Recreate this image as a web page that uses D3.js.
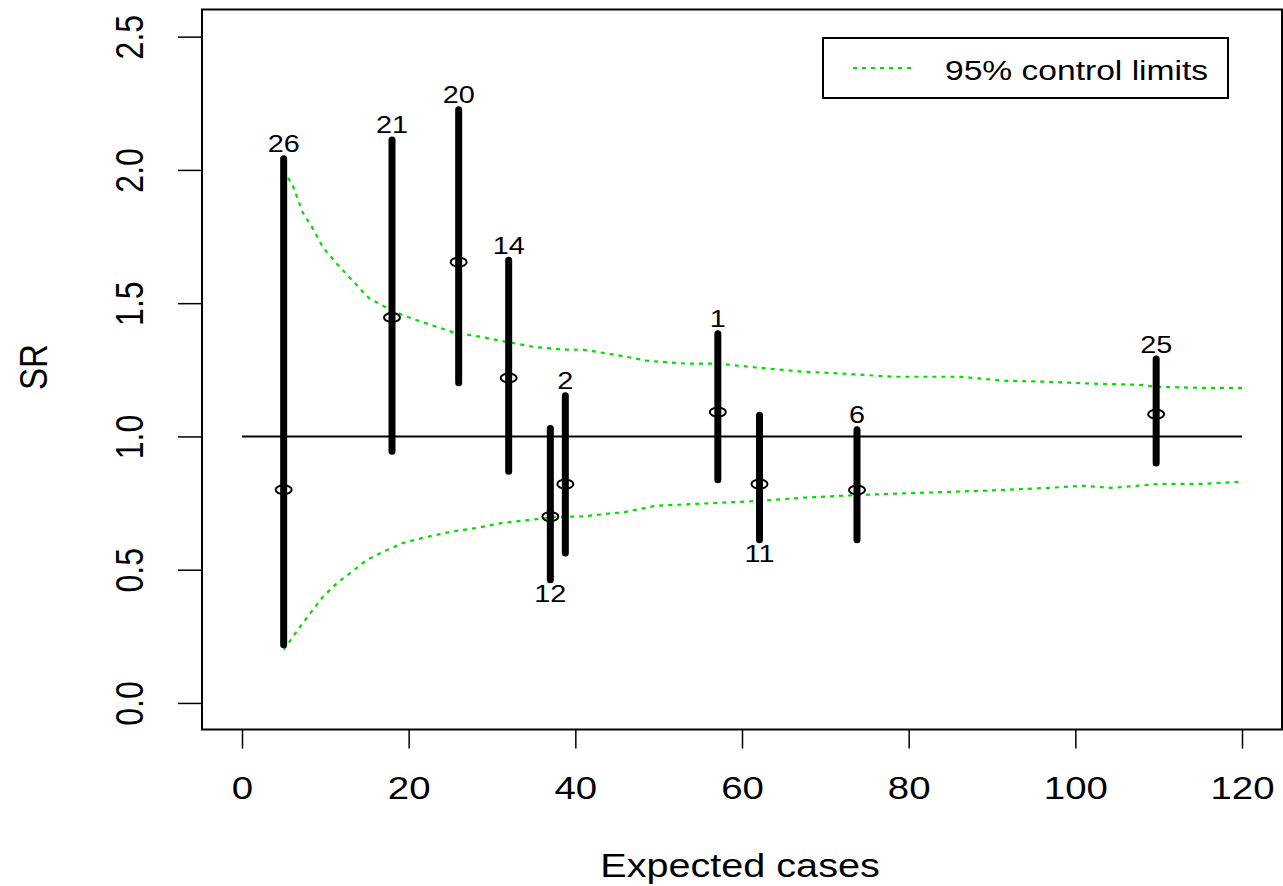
<!DOCTYPE html>
<html>
<head>
<meta charset="utf-8">
<script src="https://cdnjs.cloudflare.com/ajax/libs/d3/7.8.5/d3.min.js"></script>
<style>
  body { margin: 0; background: #fff; }
  text { font-family: "Liberation Sans", Arial, sans-serif; fill: #000; }
</style>
</head>
<body>
<svg id="chart" width="1283" height="886"></svg>
<script>
// areas: id, expected cases, SR estimate, interval
const ids      = ["26", "21", "20", "14", "12", "2", "1", "11", "6", "25"]
const expected = [5, 18, 26, 32, 37, 38.8, 57.1, 62.1, 73.8, 109.7]
const sr       = [0.80, 1.446, 1.654, 1.219, 0.699, 0.821, 1.091, 0.821, 0.799, 1.083]
const lower    = [0.211, 0.937, 1.194, 0.862, 0.455, 0.555, 0.83, 0.605, 0.605, 0.893]
const upper    = [2.049, 2.12, 2.233, 1.669, 1.037, 1.16, 1.393, 1.087, 1.033, 1.298]
const labelBelow = ["12", "11"]

// 95% control limits
const limX  = [5, 6.1, 7.3, 8.5, 9.7, 11.6, 13.4, 15.2, 17.5, 19.7, 22.5, 25.4, 28.6, 31.7, 35, 38.5, 41, 44.9, 48.6, 53.4, 57.1, 62, 67.3, 72.7, 78, 86.1, 91.4, 96.8, 102.1, 107.5, 110.1, 115.5, 120]
const limUp = [2.0, 1.94, 1.84, 1.78, 1.71, 1.64, 1.58, 1.52, 1.48, 1.45, 1.42, 1.39, 1.374, 1.355, 1.336, 1.326, 1.325, 1.306, 1.284, 1.273, 1.273, 1.258, 1.243, 1.235, 1.224, 1.224, 1.209, 1.205, 1.198, 1.194, 1.186, 1.182, 1.182]
const limLoX = [5, 6.1, 7.3, 8.5, 9.7, 11.4, 13, 15, 16.9, 19.3, 22.2, 25, 28.2, 31.3, 34.6, 37.8, 41, 46, 49.7, 54.5, 62, 67.3, 73.8, 80.8, 88.8, 96.8, 101, 104.3, 110.1, 115.5, 120]
const limLo  = [0.199, 0.248, 0.30, 0.349, 0.398, 0.45, 0.488, 0.537, 0.567, 0.60, 0.623, 0.642, 0.657, 0.676, 0.687, 0.698, 0.70, 0.717, 0.74, 0.747, 0.758, 0.77, 0.78, 0.788, 0.796, 0.807, 0.815, 0.807, 0.822, 0.822, 0.83]

const xTicks = [0, 20, 40, 60, 80, 100, 120]
const yTicks = [0, 0.5, 1, 1.5, 2, 2.5]

const svg = d3.select("#chart")
const green = "#00dd00"
const sx = "scale(1.2,1)"

let x = d3.scaleLinear().domain([-4.8, 124.8]).range([202, 1282])
let y = d3.scaleLinear().domain([-0.1, 2.6]).range([729.6, 10])

// axes
let xAxis = svg.append("g")
    .attr("transform", "translate(0,729.6)")
    .call(d3.axisBottom(x).tickValues(xTicks).tickSize(19).tickSizeOuter(0))
xAxis.select(".domain").remove()
xAxis.selectAll("line").attr("stroke", "#000").attr("stroke-width", 1.5)
xAxis.selectAll("text")
    .attr("y", 69).attr("dy", null)
    .attr("transform", sx)
    .style("font-size", "32px")
    .attr("font-family", null)

let yAxis = svg.append("g")
    .attr("transform", "translate(202,0)")
    .call(d3.axisLeft(y).tickValues(yTicks).tickSize(24).tickSizeOuter(0).tickFormat(d3.format(".1f")))
yAxis.select(".domain").remove()
yAxis.selectAll("line").attr("stroke", "#000").attr("stroke-width", 1.5)
yAxis.selectAll("text")
    .attr("x", null).attr("dy", null)
    .attr("text-anchor", "middle")
    .attr("transform", "translate(-59,0) scale(1.2,1) rotate(-90)")
    .style("font-size", "32px")
    .attr("font-family", null)

// box
svg.append("rect")
    .attr("x", 202).attr("y", 9.5)
    .attr("width", 1080).attr("height", 720)
    .attr("fill", "none").attr("stroke", "#000").attr("stroke-width", 2)

// titles
svg.append("text")
    .attr("transform", "translate(740,877) " + sx)
    .attr("text-anchor", "middle")
    .style("font-size", "33px")
    .text("Expected cases")
svg.append("text")
    .attr("transform", "translate(47,367) scale(1.2,1) rotate(-90)")
    .attr("text-anchor", "middle")
    .style("font-size", "33px")
    .text("SR")

// reference line at 1
svg.append("line")
    .attr("x1", x(0)).attr("x2", x(120))
    .attr("y1", y(1)).attr("y2", y(1))
    .attr("stroke", "#000").attr("stroke-width", 2)

// control limits
let line = d3.line().x(d => x(d[0])).y(d => y(d[1]))
svg.append("path")
    .attr("d", line(d3.zip(limX, limUp)))
    .attr("fill", "none").attr("stroke", green)
    .attr("stroke-width", 2.2).attr("stroke-dasharray", "4,5")
svg.append("path")
    .attr("d", line(d3.zip(limLoX, limLo)))
    .attr("fill", "none").attr("stroke", green)
    .attr("stroke-width", 2.2).attr("stroke-dasharray", "4,5")

// intervals
let data = ids.map((id, i) => ({
    id: id, e: expected[i], sr: sr[i], lo: lower[i], hi: upper[i]
}))

let g = svg.selectAll(".area")
    .data(data)
    .enter()
    .append("g")
g.append("line")
    .attr("x1", d => x(d.e)).attr("x2", d => x(d.e))
    .attr("y1", d => y(d.lo) - 2).attr("y2", d => y(d.hi) + 2)
    .attr("stroke", "#000").attr("stroke-width", 7)
    .attr("stroke-linecap", "round")
g.append("ellipse")
    .attr("cx", d => x(d.e)).attr("cy", d => y(d.sr))
    .attr("rx", 8).attr("ry", 4.5)
    .attr("fill", "none").attr("stroke", "#000").attr("stroke-width", 2)
g.append("text")
    .attr("transform", d => {
        let ty = labelBelow.includes(d.id) ? y(d.lo) + 20 : y(d.hi) - 4.5
        return "translate(" + x(d.e) + "," + ty + ") " + sx
    })
    .attr("text-anchor", "middle")
    .style("font-size", "24px")
    .text(d => d.id)

// legend
let legend = svg.append("g")
legend.append("rect")
    .attr("x", 823).attr("y", 38)
    .attr("width", 405).attr("height", 60)
    .attr("fill", "#fff").attr("stroke", "#000").attr("stroke-width", 2)
legend.append("line")
    .attr("x1", 853).attr("x2", 911)
    .attr("y1", 68).attr("y2", 68)
    .attr("stroke", green).attr("stroke-width", 2.2).attr("stroke-dasharray", "4,5")
legend.append("text")
    .attr("transform", "translate(945,80) " + sx)
    .style("font-size", "28px")
    .text("95% control limits")
</script>
</body>
</html>
